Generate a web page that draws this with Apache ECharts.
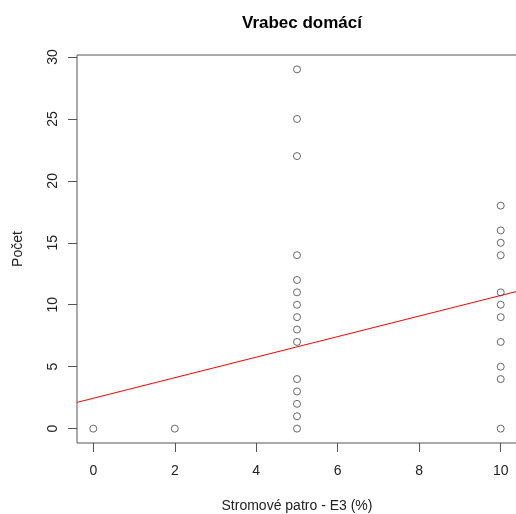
<!DOCTYPE html>
<html>
<head>
<meta charset="utf-8">
<script src="https://cdn.jsdelivr.net/npm/echarts@6/dist/echarts.min.js"></script>
<style>
  html, body { margin: 0; padding: 0; background: #fff; }
  #chart { width: 516px; height: 514px; }
</style>
</head>
<body>
<div id="chart"></div>
<script>
// Observations: tree layer cover E3 (%) vs. sparrow count
const coverValues = [
  0, 2,
  5, 5, 5, 5, 5, 5, 5, 5, 5, 5, 5, 5, 5, 5, 5,
  10, 10, 10, 10, 10, 10, 10, 10, 10, 10, 10
];
const countValues = [
  0, 0,
  29, 25, 22, 14, 12, 11, 10, 9, 8, 7, 4, 3, 2, 1, 0,
  18, 16, 15, 14, 11, 10, 9, 7, 5, 4, 0
];

// Fitted trend line, ends at the plot edges
const fitX = [-0.4, 10.4];
const fitY = [2.12, 11.08];

// Axis ticks
const xTicks = [0, 2, 4, 6, 8, 10];
const yTicks = [0, 5, 10, 15, 20, 25, 30];

const chartTitle = 'Vrabec domácí';
const xTitle = 'Stromové patro - E3 (%)';
const yTitle = 'Počet';

const points = coverValues.map((x, i) => [x, countValues[i]]);
const fitLine = fitX.map((x, i) => [x, fitY[i]]);

const FONT = '"Liberation Sans", Arial, sans-serif';
const INK = '#222';
const FRAME = '#555';

const chart = echarts.init(document.getElementById('chart'), null, { renderer: 'canvas' });

chart.setOption({
  animation: false,
  backgroundColor: '#fff',
  title: {
    text: chartTitle,
    left: 297,
    top: 10,
    textAlign: 'center',
    textStyle: { fontFamily: FONT, fontSize: 17, fontWeight: 'bold', color: '#000' }
  },
  grid: {
    left: 77,
    top: 55,
    width: 440,
    height: 388,
    outerBoundsMode: 'none',
    containLabel: false,
    show: true,
    borderColor: FRAME,
    borderWidth: 1,
    backgroundColor: 'transparent'
  },
  xAxis: {
    type: 'value',
    position: 'bottom',
    min: -0.4,
    max: 10.4,
    name: xTitle,
    nameLocation: 'middle',
    nameGap: 56,
    nameTextStyle: { fontFamily: FONT, fontSize: 14, color: INK },
    axisLine: { show: false, onZero: false },
    splitLine: { show: false },
    axisTick: {
      show: true,
      inside: false,
      length: 9,
      customValues: xTicks,
      lineStyle: { color: FRAME, width: 1 }
    },
    axisLabel: {
      show: true,
      margin: 21,
      customValues: xTicks,
      fontFamily: FONT,
      fontSize: 14,
      color: INK
    }
  },
  yAxis: {
    type: 'value',
    position: 'left',
    min: -1.16,
    max: 30.16,
    name: yTitle,
    nameLocation: 'middle',
    nameRotate: 90,
    nameGap: 52,
    nameTextStyle: { fontFamily: FONT, fontSize: 14, color: INK },
    axisLine: { show: false, onZero: false },
    splitLine: { show: false },
    axisTick: {
      show: true,
      inside: false,
      length: 9,
      customValues: yTicks,
      lineStyle: { color: FRAME, width: 1 }
    },
    axisLabel: {
      show: true,
      rotate: 90,
      margin: 17,
      customValues: yTicks,
      fontFamily: FONT,
      fontSize: 14,
      color: INK
    }
  },
  series: [
    {
      type: 'scatter',
      data: points,
      symbol: 'circle',
      symbolSize: 7,
      itemStyle: { color: 'rgba(255,255,255,0)', borderColor: '#444', borderWidth: 1 },
      z: 3
    },
    {
      type: 'line',
      data: fitLine,
      showSymbol: false,
      symbol: 'none',
      lineStyle: { color: '#ff0000', width: 1 },
      z: 2
    }
  ]
});
</script>
</body>
</html>
